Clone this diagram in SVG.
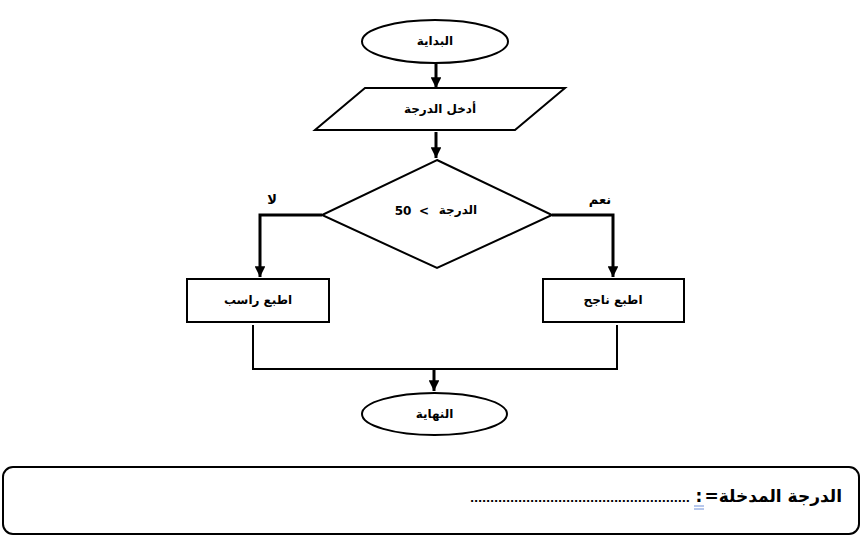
<svg xmlns="http://www.w3.org/2000/svg" width="863" height="536" viewBox="0 0 863 536">
<style>
.s{fill:#fff;stroke:#000;stroke-width:2}
.c{fill:none;stroke:#000;stroke-width:2}
.a{fill:none;stroke:#000;stroke-width:3}
.t{font-family:"DejaVu Sans",sans-serif;font-size:12px;font-weight:bold;fill:#000}
.l{font-family:"DejaVu Sans",sans-serif;font-size:13px;font-weight:bold;fill:#000}
.b{font-family:"DejaVu Sans",sans-serif;font-size:17px;font-weight:bold;fill:#000}
</style>
<defs>
<marker id="ah" viewBox="0 0 10 10" refX="10" refY="5" markerWidth="3.6" markerHeight="3.6" orient="auto" markerUnits="strokeWidth">
<path d="M0,0 L10,5 L0,10 z" fill="#000"/>
</marker>
</defs>
<rect width="863" height="536" fill="#fff"/>
<g id="connectors">
<line class="a" x1="436" y1="64" x2="436" y2="88" marker-end="url(#ah)"/>
<line class="a" x1="436" y1="132" x2="436" y2="158" marker-end="url(#ah)"/>
<polyline class="a" points="322,215 260,215 260,277" marker-end="url(#ah)"/>
<polyline class="a" points="552,215 613,215 613,277" marker-end="url(#ah)"/>
<polyline class="c" points="253,325 253,369 617,369 617,325"/>
<line class="a" x1="434" y1="369" x2="434" y2="391" marker-end="url(#ah)"/>
<text class="l" x="272" y="204" text-anchor="middle">لا</text>
<text class="l" x="600" y="204" text-anchor="middle">نعم</text>
</g>
<g id="start">
<ellipse class="s" cx="435" cy="41.5" rx="73" ry="21.5"/>
<text class="t" x="435" y="45" text-anchor="middle">البداية</text>
</g>
<g id="input">
<polygon class="s" points="365,88 565,88 515,130 315,130"/>
<text class="t" x="440" y="113" text-anchor="middle">أدخل الدرجة</text>
</g>
<g id="decision">
<polygon class="s" points="437,160 552,215 437,268 322,215"/>
<text class="t" x="403" y="215" text-anchor="middle" font-size="14">50</text>
<text class="t" x="424" y="215" text-anchor="middle" font-size="14">&lt;</text>
<text class="t" x="458" y="214" text-anchor="middle" font-size="13">الدرجة</text>
</g>
<g id="fail">
<rect class="s" x="187" y="279" width="142" height="43"/>
<text class="t" x="258" y="304" text-anchor="middle">اطبع راسب</text>
</g>
<g id="pass">
<rect class="s" x="543" y="279" width="141" height="43"/>
<text class="t" x="613" y="304" text-anchor="middle">اطبع ناجح</text>
</g>
<g id="end">
<ellipse class="s" cx="434.5" cy="414" rx="72.5" ry="21"/>
<text class="t" x="434.5" y="418" text-anchor="middle">النهاية</text>
</g>
<g id="answer">
<rect x="3" y="467" width="856" height="67" rx="10" ry="10" fill="#fff" stroke="#000" stroke-width="2"/>
<text class="b" x="842" y="502" direction="rtl" text-anchor="start">الدرجة المدخلة=</text>
<text class="b" x="699" y="502" text-anchor="middle" font-size="15">:</text>
<line x1="694" y1="506" x2="704" y2="506" stroke="#6f8fd8" stroke-width="1"/>
<line x1="694" y1="509" x2="704" y2="509" stroke="#6f8fd8" stroke-width="1"/>
<text x="470" y="502" font-family="DejaVu Sans,sans-serif" font-size="11" font-weight="bold" fill="#000" textLength="220" lengthAdjust="spacing">.......................................................</text>
</g>
</svg>
